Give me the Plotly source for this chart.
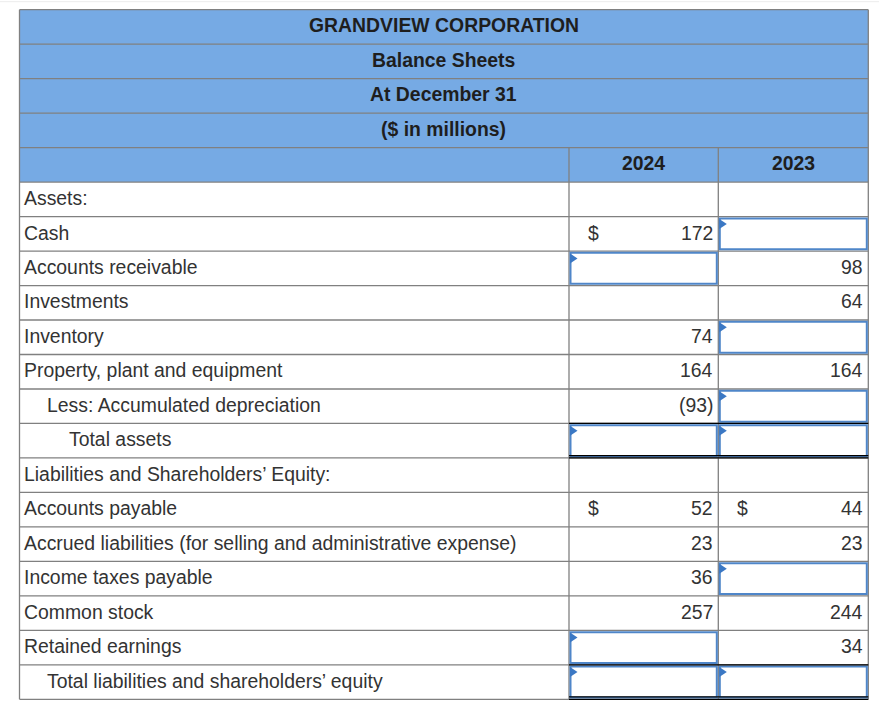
import plotly.graph_objects as go

# ---------------- data ----------------
title_lines = ["GRANDVIEW CORPORATION", "Balance Sheets", "At December 31", "($ in millions)"]
years = ["2024", "2023"]
labels = [
    "Assets:", "Cash", "Accounts receivable", "Investments", "Inventory",
    "Property, plant and equipment", "Less: Accumulated depreciation", "Total assets",
    "Liabilities and Shareholders\u2019 Equity:", "Accounts payable",
    "Accrued liabilities (for selling and administrative expense)",
    "Income taxes payable", "Common stock", "Retained earnings",
    "Total liabilities and shareholders\u2019 equity",
]
indent = [0, 0, 0, 0, 0, 0, 1, 2, 0, 0, 0, 0, 0, 0, 1]
values_2024 = [None, 172, None, None, 74, 164, -93, None, None, 52, 23, 36, 257, None, None]
values_2023 = [None, None, 98, 64, None, 164, None, None, None, 44, 23, None, 244, 34, None]
input_2024 = [0, 0, 1, 0, 0, 0, 0, 1, 0, 0, 0, 0, 0, 1, 1]
input_2023 = [0, 1, 0, 0, 1, 0, 1, 1, 0, 0, 0, 1, 0, 0, 1]
dollar_2024 = [0, 1, 0, 0, 0, 0, 0, 0, 0, 1, 0, 0, 0, 0, 0]
dollar_2023 = [0, 0, 0, 0, 0, 0, 0, 0, 0, 1, 0, 0, 0, 0, 0]
total_rows = [7, 14]

# ---------------- styles ----------------
W, H = 879, 712
TOP, RH = 9.7, 34.48
X0, X1, X2, X3 = 19.5, 569.0, 718.3, 868.3
BLUE = "#76aae4"
GRID = "#808080"
BOX = "#4f86c9"
TRI = "#3b78c4"
FONT = "Liberation Sans, Arial, sans-serif"
FS = 19.4
TXT = "#333333"
HTXT = "#1e1e1e"
DY = -1.3

fig = go.Figure()
shapes = []
ann = []

def rtop(i):
    return TOP + i * RH

n_header = 5
n_rows = n_header + len(labels)

# header fill
shapes.append(dict(type="rect", x0=X0, x1=X3, y0=rtop(0), y1=rtop(n_header),
                   fillcolor=BLUE, line=dict(width=0), layer="below"))

# horizontal grid lines
for i in range(n_rows + 1):
    shapes.append(dict(type="line", x0=X0, x1=X3, y0=rtop(i), y1=rtop(i),
                       line=dict(color=GRID, width=1.3)))
# outer verticals
for x in (X0, X3):
    shapes.append(dict(type="line", x0=x, x1=x, y0=rtop(0), y1=rtop(n_rows),
                       line=dict(color=GRID, width=1.3)))
# inner verticals (from year header row down)
for x in (X1, X2):
    shapes.append(dict(type="line", x0=x, x1=x, y0=rtop(4), y1=rtop(n_rows),
                       line=dict(color=GRID, width=1.3)))

# faint top page line
shapes.append(dict(type="line", x0=0, x1=W, y0=1.7, y1=1.7, line=dict(color="#ececec", width=1)))

# header texts
for i, t in enumerate(title_lines):
    ann.append(dict(x=(X0 + X3) / 2, y=rtop(i) + RH / 2 + DY - 0.5, text="<b>%s</b>" % t, showarrow=False,
                    xanchor="center", yanchor="middle", font=dict(family=FONT, size=FS, color=HTXT)))
for (xl, xr), y in zip([(X1, X2), (X2, X3)], years):
    ann.append(dict(x=(xl + xr) / 2, y=rtop(4) + RH / 2 + DY - 0.5, text="<b>%s</b>" % y, showarrow=False,
                    xanchor="center", yanchor="middle", font=dict(family=FONT, size=FS, color=HTXT)))

def fmt(v):
    return "(%d)" % (-v) if v < 0 else "%d" % v

cols = [(X1, X2, values_2024, input_2024, dollar_2024),
        (X2, X3, values_2023, input_2023, dollar_2023)]

for r, lab in enumerate(labels):
    i = n_header + r
    yt, yb = rtop(i), rtop(i + 1)
    ym = (yt + yb) / 2 + DY
    ann.append(dict(x=X0 + 2.5 + indent[r] * 22.5, y=ym, text=lab, showarrow=False,
                    xanchor="left", yanchor="middle", font=dict(family=FONT, size=FS, color=TXT)))
    for xl, xr, vals, inp, dol in cols:
        v = vals[r]
        if v is not None:
            ann.append(dict(x=xr - 3, y=ym, text=fmt(v), showarrow=False,
                            xanchor="right", yanchor="middle", font=dict(family=FONT, size=FS, color=TXT)))
        if dol[r]:
            ann.append(dict(x=xl + 17, y=ym, text="$", showarrow=False,
                            xanchor="left", yanchor="middle", font=dict(family=FONT, size=FS, color=TXT)))
        if inp[r]:
            bx0, bx1, by0, by1 = xl + 1.5, xr - 1.5, yt + 1.8, yb - 1.8
            shapes.append(dict(type="rect", x0=bx0, x1=bx1, y0=by0, y1=by1,
                               fillcolor="white", line=dict(color=BOX, width=2)))
            tx, ty = bx0 - 0.5, by0 + 0.5
            shapes.append(dict(type="path",
                               path="M %.1f,%.1f L %.1f,%.1f L %.1f,%.1f Z" % (tx, ty, tx + 7.5, ty + 5, tx, ty + 10),
                               fillcolor=TRI, line=dict(width=0)))

# black rules around totals
for r in total_rows:
    i = n_header + r
    yt, yb = rtop(i), rtop(i + 1)
    shapes.append(dict(type="line", x0=X1, x1=X3, y0=yt, y1=yt, line=dict(color="black", width=1.3)))
    shapes.append(dict(type="line", x0=X1, x1=X3, y0=yb - 2.4, y1=yb - 2.4, line=dict(color="black", width=1.2)))
    shapes.append(dict(type="line", x0=X1, x1=X3, y0=yb, y1=yb, line=dict(color="black", width=1.2)))

fig.update_layout(
    width=W, height=H, margin=dict(l=0, r=0, t=0, b=0),
    paper_bgcolor="white", plot_bgcolor="white",
    xaxis=dict(range=[0, W], visible=False, fixedrange=True),
    yaxis=dict(range=[H, 0], visible=False, fixedrange=True),
    shapes=shapes, annotations=ann, showlegend=False,
)

fig.write_html("out.html", config={"displayModeBar": False},
               post_script="document.body.style.margin='0';document.body.style.overflow='hidden';")
